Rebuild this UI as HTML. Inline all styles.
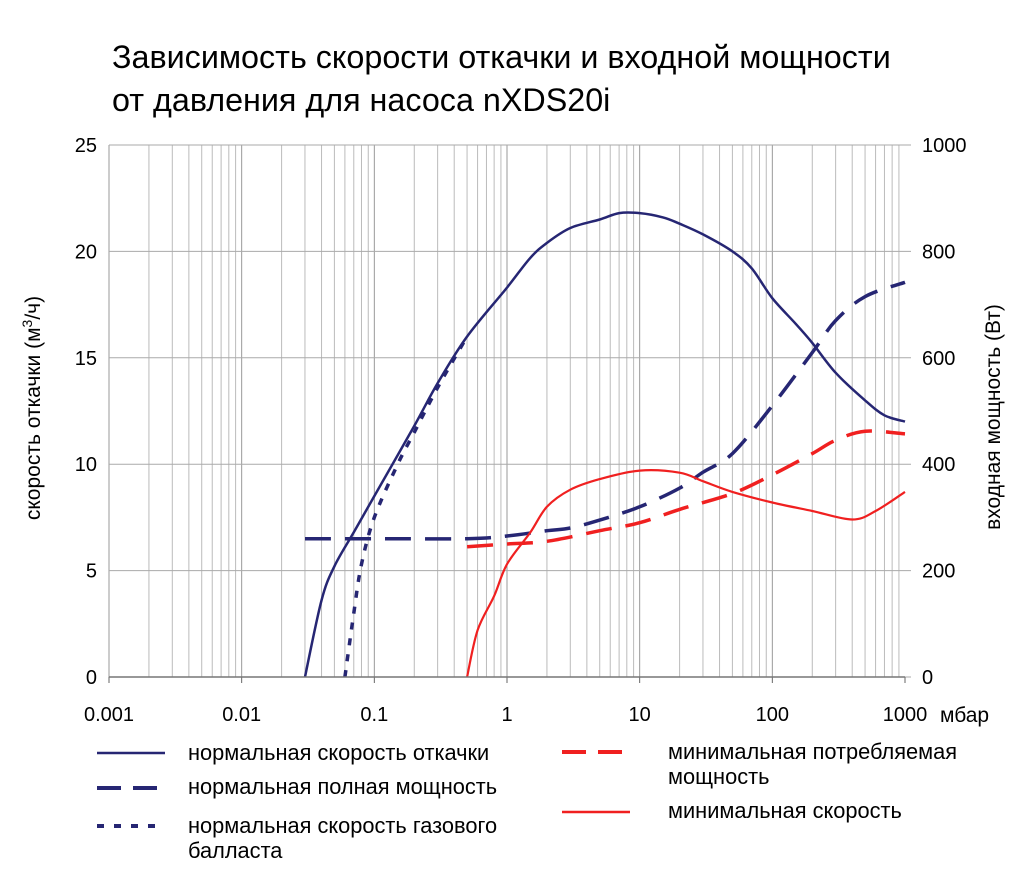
<!DOCTYPE html>
<html><head><meta charset="utf-8"><style>
body{margin:0;background:#fff;font-family:"Liberation Sans",sans-serif;}
svg text{font-family:"Liberation Sans",sans-serif;fill:#000;}
</style></head><body>
<svg width="1028" height="887">
<text x="112" y="68" font-size="32.3">Зависимость скорости откачки и входной мощности</text>
<text x="112" y="111" font-size="32.3">от давления для насоса nXDS20i</text>
<g id="grid"></g>
<g id="series"></g>
<g id="axes"></g>
<text transform="translate(40,408) rotate(-90)" text-anchor="middle" font-size="21">скорость откачки (м<tspan baseline-shift="super" font-size="14">3</tspan>/ч)</text>
<text transform="translate(1000,417) rotate(-90)" text-anchor="middle" font-size="21">входная мощность (Вт)</text>
<text x="940" y="722" font-size="21">мбар</text>
<g font-size="21.8">
<line x1="97" y1="753" x2="165" y2="753" stroke="#262673" stroke-width="2.5"/>
<text x="188" y="760">нормальная скорость откачки</text>
<line x1="97" y1="788" x2="165" y2="788" stroke="#262673" stroke-width="4" stroke-dasharray="24,12"/>
<text x="188" y="794">нормальная полная мощность</text>
<line x1="97" y1="826" x2="165" y2="826" stroke="#262673" stroke-width="4" stroke-dasharray="7,10"/>
<text x="188" y="833">нормальная скорость газового</text>
<text x="188" y="858">балласта</text>
<line x1="562" y1="752" x2="630" y2="752" stroke="#f02020" stroke-width="4" stroke-dasharray="24,12"/>
<text x="668" y="759">минимальная потребляемая</text>
<text x="668" y="784">мощность</text>
<line x1="562" y1="812" x2="630" y2="812" stroke="#f02020" stroke-width="2.5"/>
<text x="668" y="818">минимальная скорость</text>
</g>
</svg>
<script>
const xTickLabels=["0.001","0.01","0.1","1","10","100","1000"];
const yLeftTicks=[0,5,10,15,20,25];
const yRightTicks=[0,200,400,600,800,1000];
const speedX=[0.03,0.04,0.05,0.07,0.1,0.2,0.3,0.5,1,1.5,2,3,5,7,10,15,20,30,50,70,100,150,200,300,500,700,1000];
const speedY=[0,3.6,5.2,6.8,8.5,11.8,13.8,16,18.3,19.7,20.4,21.1,21.5,21.8,21.8,21.6,21.3,20.8,20,19.2,17.8,16.6,15.7,14.3,13,12.3,12];
const gasX=[0.06,0.07,0.08,0.1,0.15,0.2,0.3,0.5];
const gasY=[0,3,5.3,7.5,10,11.5,13.6,16];
const powerX=[0.03,0.1,0.5,1,2,3,5,10,20,30,50,100,200,300,500,1000];
const powerW=[260,260,260,265,275,280,295,320,355,385,420,510,610,670,715,742];
const minPowerX=[0.5,1,2,5,10,20,50,100,200,300,500,1000];
const minPowerW=[245,250,255,275,290,315,345,380,420,445,462,457];
const minSpeedX=[0.5,0.6,0.8,1,1.5,2,3,5,10,20,30,50,100,200,400,600,1000];
const minSpeedY=[0,2.2,3.8,5.3,6.8,8,8.8,9.3,9.7,9.6,9.2,8.7,8.2,7.8,7.4,7.8,8.7];

const X0=109,X1=905,Y0=677,Y1=145;
const xs=v=>X0+(Math.log10(v)+3)/6*(X1-X0);
const yl=v=>Y0-v/25*(Y0-Y1);
const yr=w=>Y0-w/1000*(Y0-Y1);
const NS="http://www.w3.org/2000/svg";
function mk(tag,attrs,parent){const e=document.createElementNS(NS,tag);for(const k in attrs)e.setAttribute(k,attrs[k]);parent.appendChild(e);return e;}
const grid=document.getElementById('grid'),axes=document.getElementById('axes'),ser=document.getElementById('series');
for(let d=-3;d<3;d++){for(let m=1;m<10;m++){const x=xs(m*Math.pow(10,d));
const l=mk('line',{x1:x,x2:x,y1:Y1,y2:Y0,stroke:m==1?'#999':'#bbb','stroke-width':1},grid);

}}
yLeftTicks.forEach(v=>{const y=yl(v);
const l=mk('line',{x1:X0,x2:X1+6,y1:y,y2:y,stroke:'#aaa','stroke-width':1},grid);


const t=mk('text',{x:X0-12,y:y+7,'text-anchor':'end','font-size':20},axes);t.textContent=v;

});
yRightTicks.forEach(w=>{const t=mk('text',{x:922,y:yr(w)+7,'font-size':20},axes);t.textContent=w;

});
xTickLabels.forEach(s=>{const x=xs(parseFloat(s));
const tk=mk('line',{x1:x,x2:x,y1:Y0,y2:Y0+6,stroke:'#666'},axes);


const t=mk('text',{x:x,y:Y0+44,'text-anchor':'middle','font-size':20},axes);t.textContent=s;

});
const ax=mk('line',{x1:X0,x2:X1,y1:Y0,y2:Y0,stroke:'#777','stroke-width':1.5},axes);


function path(X,Y,fy,color,w,dash,name){
const P=X.map((v,i)=>[xs(v),fy(Y[i])]);
let d='M'+P[0][0].toFixed(1)+','+P[0][1].toFixed(1);
for(let i=0;i<P.length-1;i++){const p0=P[Math.max(i-1,0)],p1=P[i],p2=P[i+1],p3=P[Math.min(i+2,P.length-1)];
const c1=[p1[0]+(p2[0]-p0[0])/6,p1[1]+(p2[1]-p0[1])/6],c2=[p2[0]-(p3[0]-p1[0])/6,p2[1]-(p3[1]-p1[1])/6];
d+='C'+c1[0].toFixed(1)+','+c1[1].toFixed(1)+' '+c2[0].toFixed(1)+','+c2[1].toFixed(1)+' '+p2[0].toFixed(1)+','+p2[1].toFixed(1);}
const p=mk('path',{d:d,fill:'none',stroke:color,'stroke-width':w,'stroke-dasharray':dash,'stroke-linejoin':'round'},ser);

}
path(powerX,powerW,yr,'#262673',3.5,'26,14','normal-power-line');
path(minPowerX,minPowerW,yr,'#f02020',3.5,'26,14','min-power-line');
path(minSpeedX,minSpeedY,yl,'#f02020',2.2,'','min-speed-line');
path(gasX,gasY,yl,'#262673',3.5,'7,9','gas-ballast-speed-line');
path(speedX,speedY,yl,'#262673',2.5,'','normal-speed-line');
</script>
</body></html>
